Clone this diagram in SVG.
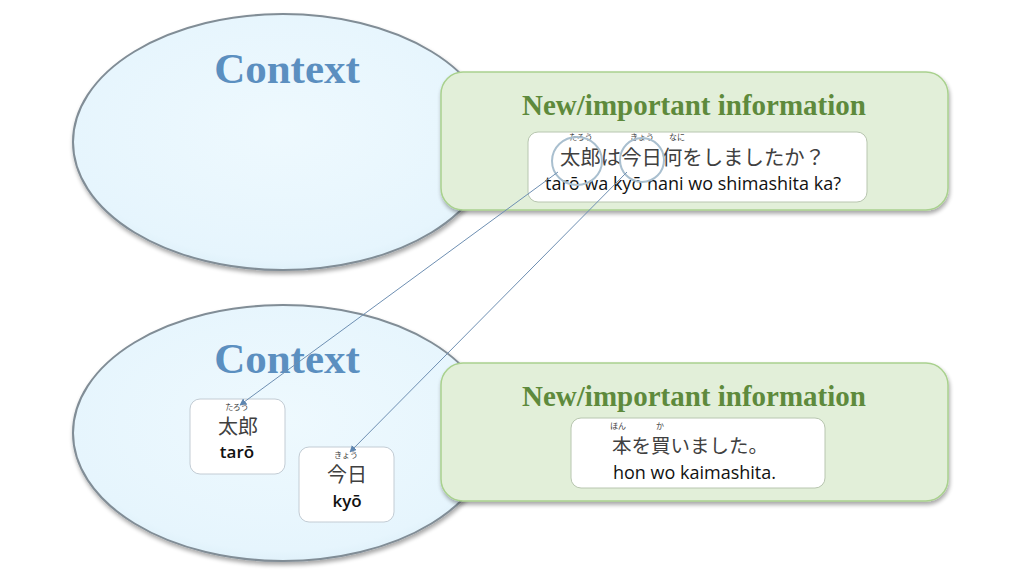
<svg xmlns="http://www.w3.org/2000/svg" width="1024" height="576" viewBox="0 0 1024 576">
<defs>
<radialGradient id="eg" cx="0.5" cy="0.45" r="0.6">
<stop offset="0" stop-color="#eef9fe"/><stop offset="0.85" stop-color="#e6f5fd"/><stop offset="1" stop-color="#d8ecf6"/>
</radialGradient>
<filter id="sh" x="-10%" y="-10%" width="120%" height="125%">
<feGaussianBlur in="SourceAlpha" stdDeviation="2"/><feOffset dx="1" dy="3"/><feComponentTransfer><feFuncA type="linear" slope="0.35"/></feComponentTransfer>
<feMerge><feMergeNode/><feMergeNode in="SourceGraphic"/></feMerge>
</filter>
<marker id="ah" viewBox="0 0 10 10" refX="9" refY="5" markerWidth="7" markerHeight="7" orient="auto" markerUnits="userSpaceOnUse">
<path d="M0,0 L10,5 L0,10 z" fill="#5f86b0"/>
</marker>
<style>
.ell{fill:url(#eg);stroke:#818d96;stroke-width:2}
.gbox{fill:#e2efd9;stroke:#a9d18e;stroke-width:1.5}
.wbox{fill:#ffffff;stroke:#b8c6b0;stroke-width:1}
.sbox{fill:#ffffff;stroke:#c3ccd4;stroke-width:1}
.ctx{font-family:"Liberation Serif",serif;font-weight:bold;font-size:43px;fill:#5b8fc0;text-anchor:middle}
.ttl{font-family:"Liberation Serif",serif;font-weight:bold;font-size:29px;fill:#5e8a3c;text-anchor:middle}
.jp{font-family:"Noto Sans CJK JP",sans-serif;fill:#404040}
.fu{font-family:"Noto Sans CJK JP",sans-serif;font-size:8px;fill:#404040;text-anchor:middle}
.ro{font-family:"Open Sans",sans-serif;font-size:18px;fill:#111}
.rob{font-family:"Open Sans",sans-serif;font-size:17px;font-weight:600;fill:#111;text-anchor:middle}
.conn{stroke:#6e8fb2;stroke-width:1;fill:none}
.circ{fill:none;stroke:#a9bfcf;stroke-width:2}
</style>
</defs>
<rect width="1024" height="576" fill="#ffffff"/>

<g id="context-top">
<ellipse class="ell" cx="283" cy="142" rx="210" ry="128" filter="url(#sh)"/>
<text class="ctx" x="287" y="83">Context</text>
</g>

<g id="context-bottom">
<ellipse class="ell" cx="283" cy="433" rx="210" ry="128" filter="url(#sh)"/>
<text class="ctx" x="287" y="373">Context</text>
</g>

<g id="new-info-top">
<rect class="gbox" x="441" y="72" width="507" height="138" rx="22" filter="url(#sh)"/>
<text class="ttl" x="694" y="115">New/important information</text>
<rect class="wbox" x="528" y="132" width="339" height="70" rx="10"/>
<text class="fu" x="581" y="140">たろう</text>
<text class="fu" x="642" y="140">きょう</text>
<text class="fu" x="677" y="140">なに</text>
<text class="jp" x="560" y="165" font-size="20.4">太郎は今日何をしましたか？</text>
<text class="ro" x="545" y="190">tarō wa kyō nani wo shimashita ka?</text>
<ellipse class="circ" cx="577" cy="161" rx="25" ry="24"/>
<ellipse class="circ" cx="642" cy="160" rx="22" ry="22"/>
</g>

<g id="new-info-bottom">
<rect class="gbox" x="441" y="363" width="507" height="138" rx="22" filter="url(#sh)"/>
<text class="ttl" x="694" y="406">New/important information</text>
<rect class="wbox" x="571" y="418" width="254" height="70" rx="10"/>
<text class="fu" x="618" y="429">ほん</text>
<text class="fu" x="660" y="429">か</text>
<text class="jp" x="612" y="453" font-size="19.5">本を買いました。</text>
<text class="ro" x="613" y="479">hon wo kaimashita.</text>
</g>

<g id="taro">
<rect class="sbox" x="190" y="399" width="95" height="75" rx="10"/>
<text class="fu" x="237" y="410">たろう</text>
<text class="jp" x="238" y="434" font-size="20" text-anchor="middle">太郎</text>
<text class="rob" x="237" y="458">tarō</text>
</g>

<g id="kyo">
<rect class="sbox" x="299" y="447" width="95" height="75" rx="10"/>
<text class="fu" x="346" y="458">きょう</text>
<text class="jp" x="347" y="482" font-size="20" text-anchor="middle">今日</text>
<text class="rob" x="347" y="507">kyō</text>
</g>

<g id="connectors">
<line class="conn" x1="558" y1="172" x2="240" y2="405" marker-end="url(#ah)"/>
<line class="conn" x1="627" y1="172" x2="350" y2="452" marker-end="url(#ah)"/>
</g>
</svg>
